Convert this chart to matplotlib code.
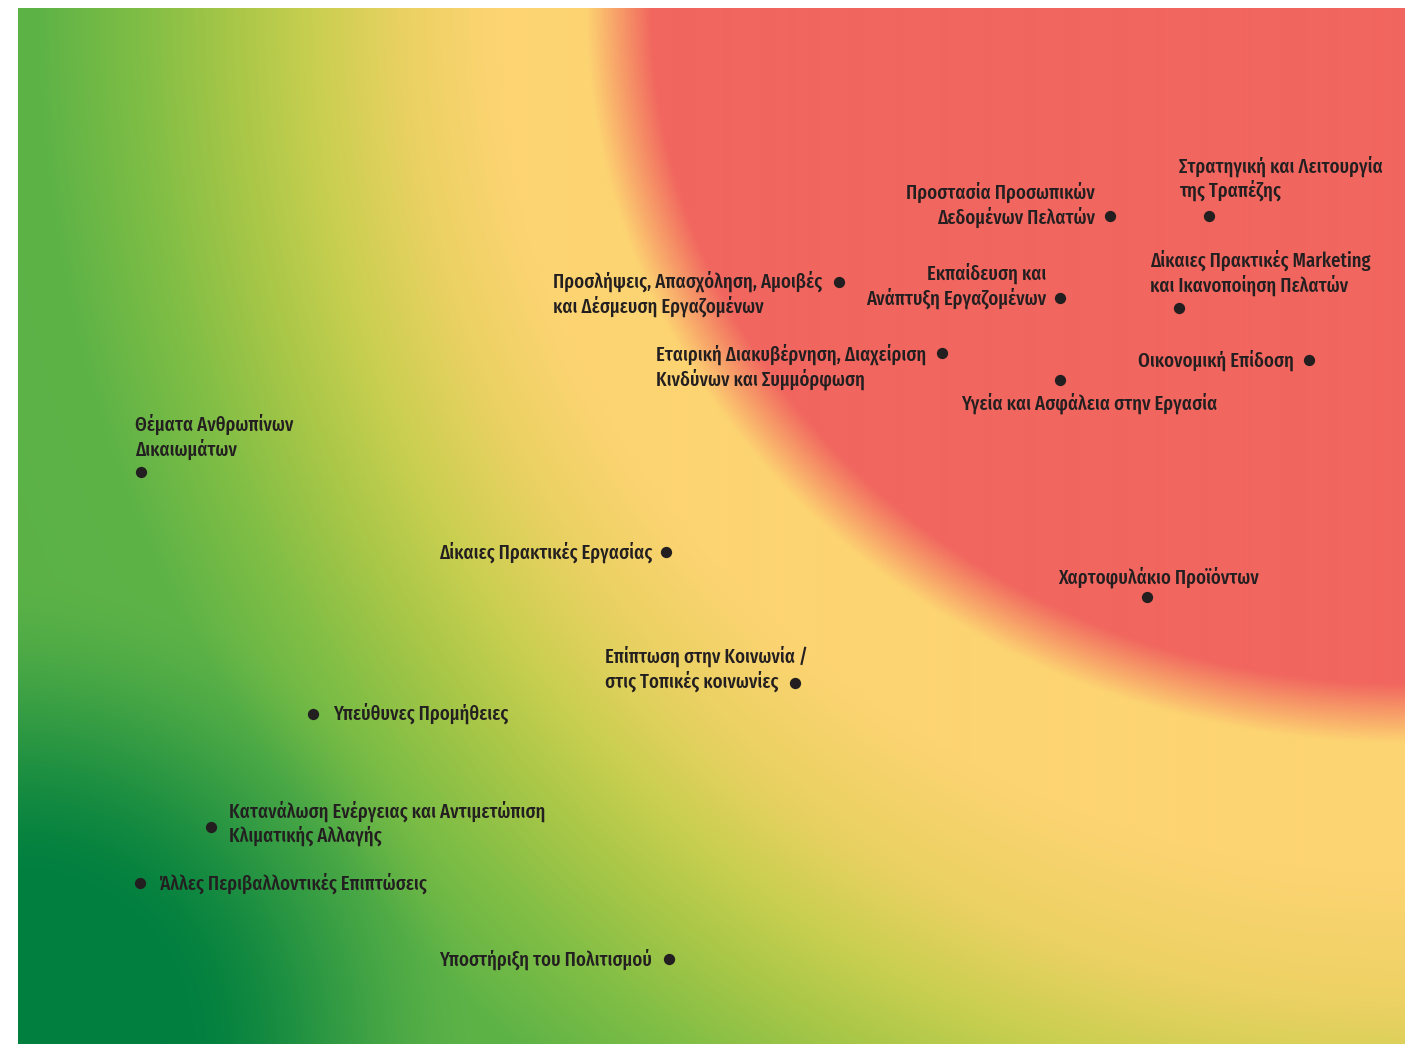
import numpy as np
import matplotlib
matplotlib.use('Agg')
import matplotlib.pyplot as plt
from matplotlib.colors import LinearSegmentedColormap, to_rgb

# topics and their position on the materiality map (0-100 on both axes)
topics = [
    "Στρατηγική και Λειτουργία\nτης Τραπέζης",
    "Προστασία Προσωπικών\nΔεδομένων Πελατών",
    "Δίκαιες Πρακτικές Marketing\nκαι Ικανοποίηση Πελατών",
    "Εκπαίδευση και\nΑνάπτυξη Εργαζομένων",
    "Προσλήψεις, Απασχόληση, Αμοιβές\nκαι Δέσμευση Εργαζομένων",
    "Εταιρική Διακυβέρνηση, Διαχείριση\nΚινδύνων και Συμμόρφωση",
    "Υγεία και Ασφάλεια στην Εργασία",
    "Οικονομική Επίδοση",
    "Θέματα Ανθρωπίνων\nΔικαιωμάτων",
    "Δίκαιες Πρακτικές Εργασίας",
    "Χαρτοφυλάκιο Προϊόντων",
    "Επίπτωση στην Κοινωνία /\nστις Τοπικές κοινωνίες",
    "Υπεύθυνες Προμήθειες",
    "Κατανάλωση Ενέργειας και Αντιμετώπιση\nΚλιματικής Αλλαγής",
    "Άλλες Περιβαλλοντικές Επιπτώσεις",
    "Υποστήριξη του Πολιτισμού",
]
x_vals = [85.9, 78.7, 83.7, 75.1, 59.2, 66.6, 75.1, 93.1,
          8.9, 46.7, 81.4, 56.0, 21.3, 13.9, 8.8, 46.9]
y_vals = [79.9, 79.9, 71.0, 72.0, 73.6, 66.7, 64.1, 66.0,
          55.2, 47.5, 43.1, 34.8, 31.9, 20.9, 15.5, 8.2]

# label placement relative to the dot, in pixels (dx, dy up, alignment)
label_pos = [
    (-30, 38, 'left'), (-15, 11.5, 'right'), (-29, 35.5, 'left'), (-13, 12, 'right'),
    (-286, -12.5, 'left'), (-286, -13.5, 'left'), (-99, -23, 'left'), (-15, 0, 'right'),
    (-6, 35, 'left'), (-13, 0, 'right'), (-89, 20, 'left'), (-190, 15, 'left'),
    (20, 0, 'left'), (18, 4.5, 'left'), (19, 0, 'left'), (-17, 0, 'right'),
]

W, H = 1415, 1044
AX_W, AX_H = 1387, 1036

fig = plt.figure(figsize=(W / 100, H / 100), dpi=100)
fig.patch.set_facecolor('white')
ax = fig.add_axes([18 / W, 0, AX_W / W, AX_H / H])

# background: elliptical gradient from the top right corner
nx, ny = 694, 518
u = (np.arange(nx) + 0.5) / nx
v = (np.arange(ny) + 0.5) / ny
U, V = np.meshgrid(u, v)
dx = (1 - U) * AX_W
dy = V * AX_H
r1 = np.sqrt((dx / 780) ** 2 + (dy / 700) ** 2)
r2 = np.sqrt((dx / 780) ** 2 + (dy / 780) ** 2)
w = np.clip((r1 - 1.05) / 0.35, 0, 1)
r = r1 + w * (r2 - r1)

stops = [
    (0.00, '#F1665F'), (0.965, '#F1665F'), (1.05, '#FDD472'), (1.17, '#FDD472'),
    (1.28, '#EBD163'), (1.40, '#C9CF50'), (1.50, '#A9C748'), (1.62, '#80BE45'),
    (1.75, '#5EB347'), (2.40, '#52AE46'),
]
rmax = stops[-1][0]
cmap = LinearSegmentedColormap.from_list('heat', [(p / rmax, c) for p, c in stops], N=2048)
rgb = cmap(np.clip(r / rmax, 0, 1))[..., :3]

# dark green pooling in the bottom left corner
d = np.sqrt((U * AX_W) ** 2 + ((1 - V) * AX_H) ** 2)
t = np.clip((d - 150) / 320, 0, 1)
alpha = 1 - t * t * (3 - 2 * t)
dark = np.array(to_rgb('#007F3F'))
rgb = rgb * (1 - alpha[..., None]) + dark * alpha[..., None]

ax.imshow(rgb, extent=[0, 100, 0, 100], origin='upper', aspect='auto',
          interpolation='bilinear')

ax.scatter(x_vals, y_vals, s=66, color='#231F20', zorder=3, linewidths=0)

font = ['Fira Sans Extra Condensed', 'Roboto Condensed', 'IBM Plex Sans Condensed', 'DejaVu Sans']
for txt, x, y, (ox, oy, ha) in zip(topics, x_vals, y_vals, label_pos):
    ax.annotate(txt, xy=(x, y), xytext=(ox * 0.72, oy * 0.72), textcoords='offset points',
                ha=ha, va='center', multialignment=ha, fontsize=14.6, fontweight='medium',
                family=font, color='#231F20', zorder=4)

ax.set_xlim(0, 100)
ax.set_ylim(0, 100)
ax.axis('off')

fig.savefig('out.png', dpi=100)
